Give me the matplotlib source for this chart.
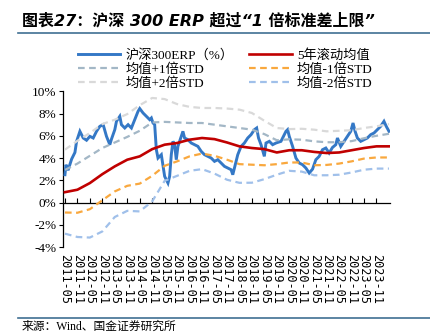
import matplotlib
matplotlib.use('Agg')
import matplotlib.pyplot as plt
from matplotlib.lines import Line2D
from matplotlib.ticker import FuncFormatter

# ---------------- data (months since 2011-05) ----------------
tick_labels = ['2011-05', '2011-11', '2012-05', '2012-11', '2013-05', '2013-11',
               '2014-05', '2014-11', '2015-05', '2015-11', '2016-05', '2016-11',
               '2017-05', '2017-11', '2018-05', '2018-11', '2019-05', '2019-11',
               '2020-05', '2020-11', '2021-05', '2021-11', '2022-05', '2022-11',
               '2023-05', '2023-11']
tick_month = [0, 6, 12, 18, 24, 30, 36, 42, 48, 54, 60, 66, 72, 78, 84, 90, 96,
              102, 108, 114, 120, 126, 132, 138, 144, 150]

band_month = [0, 6, 12, 18, 24, 30, 36, 42, 48, 54, 60, 66, 72, 78, 84, 90, 96,
              102, 108, 114, 120, 126, 132, 138, 144, 150, 156]
roll_mean = [0.93, 1.15, 1.75, 2.55, 3.25, 3.85, 4.15, 4.8, 5.2, 5.35, 5.65, 5.8,
             5.7, 5.4, 5.05, 4.9, 4.8, 4.5, 4.7, 4.7, 4.55, 4.45, 4.5, 4.7, 4.9,
             5.05, 5.05]
plus1 = [2.93, 3.5, 4.2, 4.9, 5.4, 5.9, 6.45, 7.2, 7.25, 7.2, 7.15, 7.15, 7.0,
         6.85, 6.7, 6.55, 6.15, 5.6, 5.68, 5.65, 5.5, 5.42, 5.42, 5.52, 5.78, 6.0,
         6.18]
plus2 = [4.75, 5.55, 6.25, 7.05, 7.45, 7.95, 8.75, 9.4, 9.3, 8.85, 8.6, 8.5, 8.5,
         8.45, 8.35, 8.05, 7.35, 6.7, 6.6, 6.63, 6.55, 6.4, 6.45, 6.5, 6.7, 6.85,
         7.05]
minus1 = [-0.9, -0.92, -0.6, 0.2, 1.0, 1.5, 1.7, 2.4, 3.3, 3.7, 4.15, 4.4, 4.2,
          3.85, 3.45, 3.4, 3.35, 3.45, 3.6, 3.6, 3.35, 3.38, 3.5, 3.7, 3.95, 4.05,
          4.05]
minus2 = [-2.8, -3.1, -3.15, -2.6, -1.3, -0.75, -0.8, 0.1, 1.95, 2.4, 2.85, 3.0,
          2.6, 2.05, 1.77, 1.78, 2.1, 2.5, 2.85, 2.78, 2.45, 2.45, 2.5, 2.7, 2.95,
          3.05, 3.05]

erp_month = [0.0, 0.5, 1.5, 3.2, 4.8, 5.6, 7.2, 8.8, 10.4, 12.0, 13.6, 15.2, 16.8,
             18.4, 20.0, 21.6, 22.4, 24.0, 24.8, 26.4, 27.2, 28.8, 30.4, 32.0, 33.6,
             35.2, 36.0, 37.6, 39.2, 40.8, 41.6, 42.4, 43.2, 44.0, 44.8, 46.4, 48.0,
             49.6, 50.4, 51.2, 52.0, 52.8, 53.6, 54.4, 55.2, 56.8, 57.6, 59.2, 60.8,
             62.4, 64.0, 65.6, 67.2, 68.8, 70.4, 72.0, 73.6, 75.2, 76.8, 78.4, 80.0,
             80.8, 81.6, 83.2, 84.8, 86.4, 88.0, 89.6, 91.2, 92.3, 93.2, 94.4, 96.0,
             96.8, 98.4, 100.0, 101.6, 104.0, 104.8, 106.4, 107.2, 108.0, 109.6,
             111.2, 112.8, 114.4, 116.0, 117.6, 119.2, 120.8, 122.4, 124.0, 125.6,
             127.2, 128.8, 130.4, 131.2, 132.8, 134.4, 136.0, 137.6, 138.7, 139.7,
             140.8, 142.4, 144.0, 145.6, 147.2, 148.8, 150.4, 152.0, 153.6, 154.7,
             156.0]
erp_value = [2.5, 3.4, 2.9, 3.9, 4.5, 5.5, 6.4, 5.8, 5.6, 5.95, 5.8, 6.4, 6.85,
             7.0, 5.95, 5.2, 5.7, 6.55, 7.3, 7.75, 7.0, 6.7, 7.0, 6.7, 7.45, 8.2,
             8.45, 8.05, 7.75, 7.45, 7.6, 7.15, 7.0, 4.75, 4.0, 4.3, 2.35, 1.75,
             2.35, 4.3, 5.5, 5.2, 3.85, 5.05, 5.5, 6.4, 5.8, 5.65, 5.35, 5.2, 5.05,
             4.6, 4.3, 4.15, 4.0, 3.7, 3.85, 3.55, 3.25, 3.1, 2.95, 2.5, 3.1, 4.3,
             5.05, 5.35, 5.8, 6.1, 6.55, 6.7, 5.8, 5.2, 4.15, 5.35, 5.5, 5.2, 5.35,
             5.5, 5.8, 6.4, 6.55, 5.95, 5.05, 4.0, 3.55, 3.4, 3.1, 2.65, 3.0, 3.85,
             4.15, 4.75, 4.9, 4.45, 4.95, 5.2, 5.8, 5.05, 5.5, 5.95, 6.4, 7.15, 6.4,
             5.8, 5.5, 5.65, 5.8, 6.1, 6.25, 6.55, 6.85, 7.3, 6.85, 6.4]

labels = ['沪深300ERP（%）', '均值+1倍STD', '均值+2倍STD',
          '5年滚动均值', '均值-1倍STD', '均值-2倍STD']

# ---------------- style ----------------
plt.rcParams['font.family'] = ['Liberation Serif', 'Noto Sans CJK SC']
W, H = 431, 333
fig = plt.figure(figsize=(W / 100, H / 100), dpi=100)
ax = fig.add_axes([63.5 / W, (H - 247) / H, (390 - 63.5) / W, (247 - 91.3) / H])

c_erp = '#3478C6'
c_red = '#C00000'
c_p1 = '#A3B7C6'
c_p2 = '#D9D9D9'
c_m1 = '#F9A83E'
c_m2 = '#A0C0EA'
dash = (0, (3, 2))

l_erp, = ax.plot(erp_month, erp_value, color=c_erp, lw=2.1, zorder=3,
                 solid_joinstyle='miter')
l_p1, = ax.plot(band_month, plus1, color=c_p1, lw=1.6, ls=dash, zorder=4)
l_p2, = ax.plot(band_month, plus2, color=c_p2, lw=1.6, ls=dash, zorder=4)
l_red, = ax.plot(band_month, roll_mean, color=c_red, lw=1.9, zorder=5)
l_m1, = ax.plot(band_month, minus1, color=c_m1, lw=1.6, ls=dash, zorder=4)
l_m2, = ax.plot(band_month, minus2, color=c_m2, lw=1.6, ls=dash, zorder=4)

ax.set_xlim(-0.7, 156.5)
ax.set_ylim(-4, 10)
ax.set_yticks([-4, -2, 0, 2, 4, 6, 8, 10])
ax.yaxis.set_major_formatter(FuncFormatter(lambda v, p: f'{v:.0f}%'))
ax.tick_params(axis='y', direction='out', length=3, width=0.8, labelsize=9.5, pad=2)

for s in ['top', 'right', 'bottom']:
    ax.spines[s].set_visible(False)
ax.spines['left'].set_linewidth(0.9)

ax.set_xticks(tick_month)
ax.set_xticklabels(tick_labels, rotation=270, family='DejaVu Sans Mono',
                   fontsize=8.6)
ax.tick_params(axis='x', length=0, pad=5)

# x axis line at 0% with inward ticks
sec = ax.secondary_xaxis(4 / 14)
sec.set_xticks(tick_month)
sec.set_xticklabels([])
sec.tick_params(axis='x', direction='in', length=3.5, width=0.8)
sec.spines['bottom'].set_linewidth(0.9)

leg = fig.legend([l_erp, l_p1, l_p2, l_red, l_m1, l_m2], labels, ncol=2,
                 loc='upper left', bbox_to_anchor=(78 / W, 1 - 49 / H),
                 frameon=False, fontsize=9.5, handlelength=3.2,
                 handletextpad=0.4, labelspacing=0.12, columnspacing=1.2,
                 borderpad=0, borderaxespad=0)

# title, rules, source
fig.text(22 / W, 1 - 21 / H, '图表27：沪深 300 ERP 超过“1 倍标准差上限”',
         fontsize=11.5, fontweight='bold', style='italic',
         family=['DejaVu Sans', 'Noto Sans CJK SC'], va='center', ha='left')
fig.add_artist(Line2D([18 / W, 1], [1 - 32.5 / H] * 2, transform=fig.transFigure,
                      color='#3F6F92', lw=1.2))
fig.add_artist(Line2D([18 / W, 1], [1 - 318 / H] * 2, transform=fig.transFigure,
                      color='#3F6F92', lw=1.2))
fig.text(22 / W, 1 - 327 / H, '来源：Wind、国金证券研究所', fontsize=8.5,
         family=['Liberation Serif', 'Noto Sans CJK SC'], va='center', ha='left')

fig.savefig('out.png', dpi=100)
